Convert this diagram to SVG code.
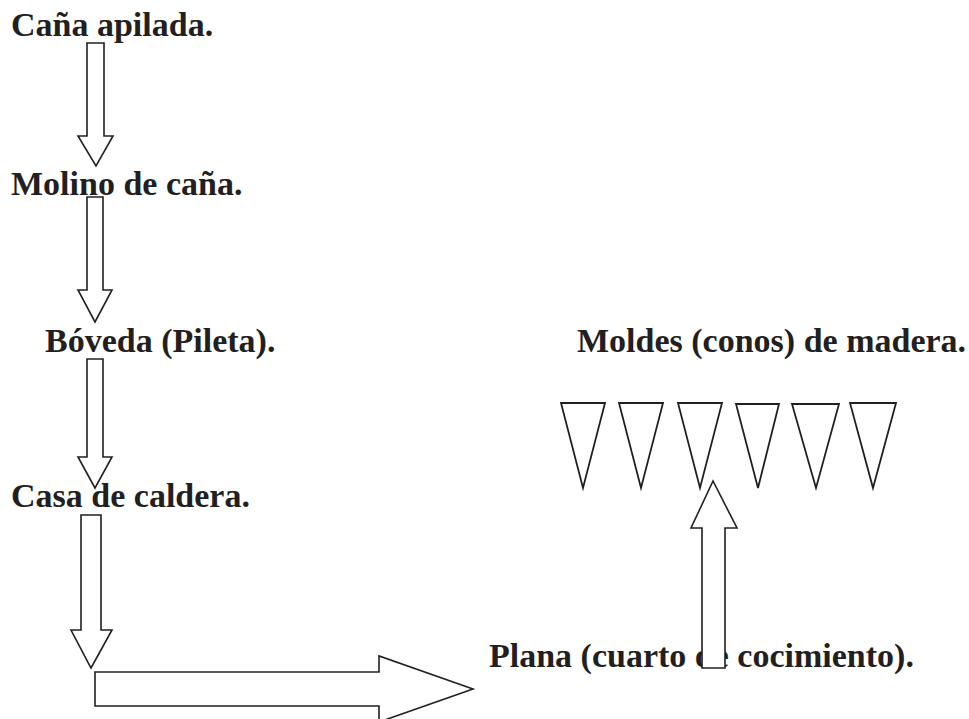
<svg xmlns="http://www.w3.org/2000/svg" width="969" height="719" viewBox="0 0 969 719">
<style>
.t{font-family:"Liberation Serif","Times New Roman",serif;font-weight:bold;font-size:34px;fill:#231f20}
.a{fill:#fff;stroke:#231f20;stroke-width:1.6;stroke-linejoin:miter}
.c{fill:#fff;stroke:#231f20;stroke-width:1.8}
</style>
<rect width="969" height="719" fill="#fff"/>
<g id="node-cana"><text class="t" x="11" y="36">Caña apilada.</text></g>
<g id="node-molino"><text class="t" x="11" y="195">Molino de caña.</text></g>
<g id="node-boveda"><text class="t" x="45" y="352">Bóveda (Pileta).</text></g>
<g id="node-casa"><text class="t" x="11" y="507">Casa de caldera.</text></g>
<g id="node-moldes"><text class="t" x="577" y="352">Moldes (conos) de madera.</text>
<g id="cones">
<polygon class="c" points="561,403 605,403 583,488"/>
<polygon class="c" points="619,403 663,403 641,488"/>
<polygon class="c" points="678,403 722,403 700,488"/>
<polygon class="c" points="736,404 779,404 758,488"/>
<polygon class="c" points="792,404 839,404 816,488"/>
<polygon class="c" points="850,403 896,403 873,488"/>
</g>
</g>
<g id="node-plana"><text class="t" x="489" y="667">Plana (cuarto de cocimiento).</text></g>
<g id="connectors">
<polygon class="a" points="87,43 104,43 104,136 113,136 96,166 78,136 87,136"/>
<polygon class="a" points="87,197 103,197 103,290 112,290 95,322 78,290 87,290"/>
<polygon class="a" points="87,359 103,359 103,457 112,457 95,488 78,457 87,457"/>
<polygon class="a" points="81,515 101,515 101,630 112,630 91,668 71,630 81,630"/>
<polygon class="a" points="95,672 379,672 379,656 473,689 379,722 379,706 95,706"/>
<polygon class="a" points="702,668 725,668 725,528 737,528 713,481 691,528 702,528"/>
</g>
</svg>
